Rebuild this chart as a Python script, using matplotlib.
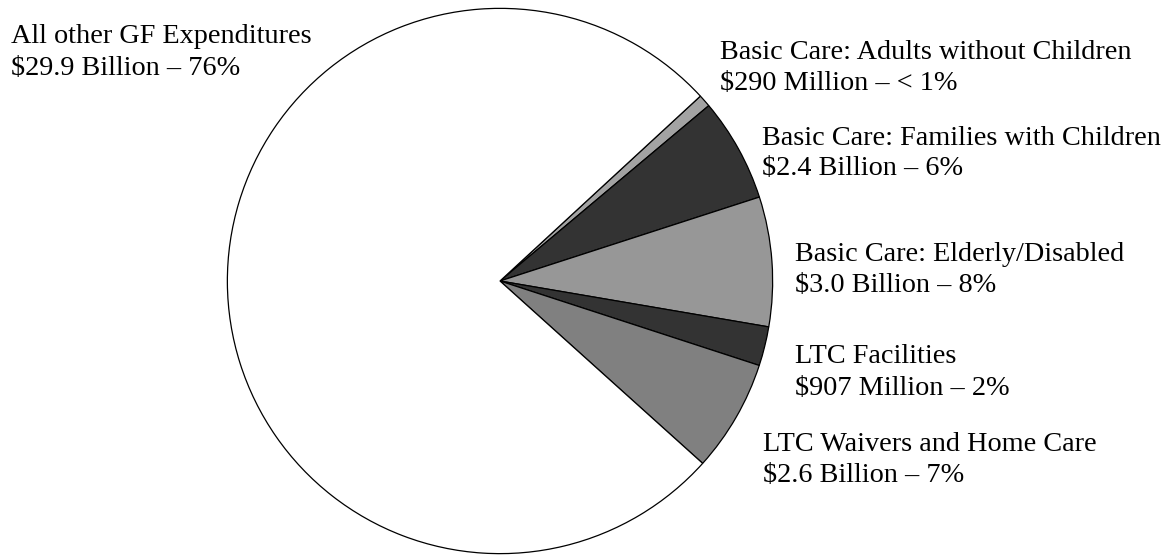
import matplotlib.pyplot as plt

# slices, clockwise from the upper right
names = ['Basic Care: Adults without Children',
         'Basic Care: Families with Children',
         'Basic Care: Elderly/Disabled',
         'LTC Facilities',
         'LTC Waivers and Home Care',
         'All other GF Expenditures']
amounts = [0.29, 2.4, 3.0, 0.907, 2.6, 29.9]  # $ billion
amount_text = ['$290 Million \u2013 < 1%',
               '$2.4 Billion \u2013 6%',
               '$3.0 Billion \u2013 8%',
               '$907 Million \u2013 2%',
               '$2.6 Billion \u2013 7%',
               '$29.9 Billion \u2013 76%']
colors = ['#a3a3a3', '#333333', '#979797', '#333333', '#808080', '#ffffff']

W, H = 1169, 555
fig = plt.figure(figsize=(W / 100, H / 100), dpi=100)

# pie centre (500, 281) px, radius 274 px
cx, cy, r = 500, 281, 274
ax = fig.add_axes([(cx - r) / W, (H - cy - r) / H, 2 * r / W, 2 * r / H])
ax.pie(amounts, colors=colors, startangle=42.7, counterclock=False,
       wedgeprops=dict(edgecolor='black', linewidth=0.9))
ax.set_xlim(-1.005, 1.005)
ax.set_ylim(-1.005, 1.005)
ax.set_aspect('equal')
ax.axis('off')

# label spots: left x px, baseline of line 1, baseline of line 2
label_x = [720, 762, 795, 795, 763, 11]
label_y1 = [59, 145, 261, 363, 451, 43]
label_y2 = [90, 175, 292, 395, 482, 75]

font = dict(family='Liberation Serif', size=20.3, color='black')
for i in range(len(names)):
    fig.text(label_x[i] / W, 1 - label_y1[i] / H, names[i],
             va='baseline', ha='left', **font)
    fig.text(label_x[i] / W, 1 - label_y2[i] / H, amount_text[i],
             va='baseline', ha='left', **font)

fig.savefig('out.png', dpi=100)
